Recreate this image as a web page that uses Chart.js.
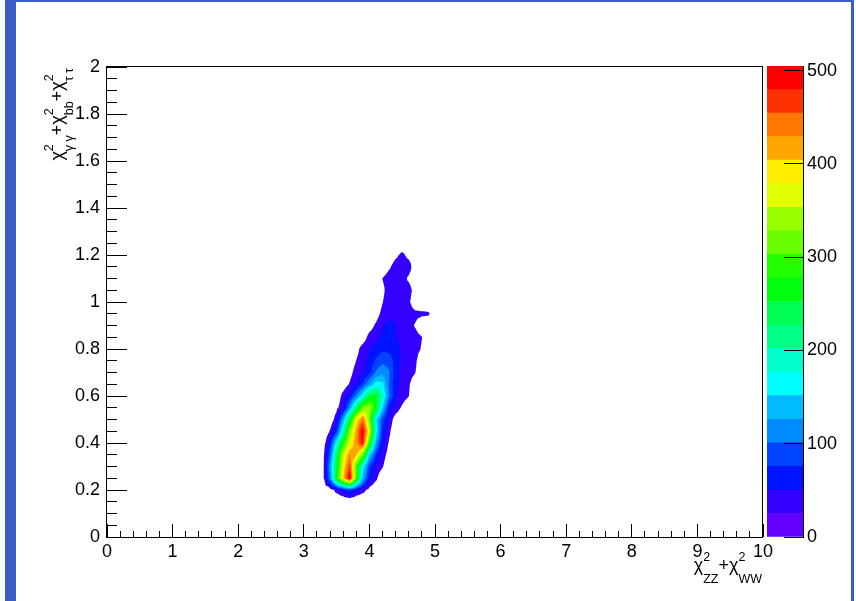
<!DOCTYPE html>
<html><head><meta charset="utf-8">
<script src="https://cdn.jsdelivr.net/npm/chart.js@4.4.1/dist/chart.umd.min.js"></script>
<style>
html,body{margin:0;padding:0;background:#fff;}
#wrap{position:relative;width:856px;height:601px;overflow:hidden;background:#fff;}
#main{position:absolute;left:0;top:0;}
#pal{position:absolute;left:740px;top:0;}
.bl{position:absolute;background:#3b5cc6;}
</style></head><body>
<div id="wrap">
<canvas id="main" width="856" height="601"></canvas>
<canvas id="pal" width="116" height="601"></canvas>
<div class="bl" style="left:5px;top:0;width:11px;height:601px"></div>
<div class="bl" style="left:5px;top:0;width:849px;height:2px"></div>
<div class="bl" style="left:851px;top:0;width:3px;height:601px"></div>
</div>
<script>
// ---- bin-centre grid of the 2D histogram (x: chi2_ZZ+chi2_WW, y: chi2_gg+chi2_bb+chi2_tt)
const xNodes = [3.2,3.3,3.4,3.5,3.6,3.7,3.8,3.9,4.0,4.1,4.2,4.3,4.4,4.5,4.6,4.7,4.8,4.9,5.0];
const yNodes = [0.15,0.20,0.25,0.30,0.35,0.40,0.45,0.50,0.55,0.60,0.65,0.70,0.75,0.80,0.85,0.90,0.95,1.00,1.05,1.10,1.15,1.20,1.25];
// bin contents, one array per y row (columns follow xNodes)
const z_y015 = [0,0,0,0,0,0,0,0,0,0,0,0,0,0,0,0,0,0,0];
const z_y020 = [0,0,10,35,55,85,50,35,15,0,0,0,0,0,0,0,0,0,0];
const z_y025 = [0,22,110,270,400,505,300,140,60,32,0,0,0,0,0,0,0,0,0];
const z_y030 = [0,22,120,250,380,465,300,170,80,45,28,0,0,0,0,0,0,0,0];
const z_y035 = [0,20,95,230,360,430,410,320,150,75,40,12,0,0,0,0,0,0,0];
const z_y040 = [0,10,65,170,280,370,430,485,290,130,55,22,0,0,0,0,0,0,0];
const z_y045 = [0,0,28,75,190,330,420,500,370,170,70,32,0,0,0,0,0,0,0];
const z_y050 = [0,0,5,40,130,250,380,445,320,160,85,45,10,0,0,0,0,0,0];
const z_y055 = [0,0,0,18,45,120,225,320,345,265,150,60,42,20,0,0,0,0,0];
const z_y060 = [0,0,0,5,35,58,110,170,255,260,190,105,55,40,26,0,0,0,0];
const z_y065 = [0,0,0,0,10,28,50,80,125,165,160,100,58,42,30,0,0,0,0];
const z_y070 = [0,0,0,0,0,15,38,48,68,105,118,105,62,44,40,26,0,0,0];
const z_y075 = [0,0,0,0,0,5,26,42,58,80,95,88,66,45,42,32,0,0,0];
const z_y080 = [0,0,0,0,0,0,15,38,48,60,70,68,60,46,42,38,22,0,0];
const z_y085 = [0,0,0,0,0,0,0,10,35,44,56,60,52,44,42,38,26,0,0];
const z_y090 = [0,0,0,0,0,0,0,0,12,30,48,58,50,42,38,22,0,0,0];
const z_y095 = [0,0,0,0,0,0,0,0,0,12,35,42,44,42,40,35,32,30,0];
const z_y100 = [0,0,0,0,0,0,0,0,0,0,24,42,42,42,32,0,0,0,0];
const z_y105 = [0,0,0,0,0,0,0,0,0,0,18,40,40,40,40,9,0,0,0];
const z_y110 = [0,0,0,0,0,0,0,0,0,0,26,40,42,40,19,0,0,0,0];
const z_y115 = [0,0,0,0,0,0,0,0,0,0,0,20,40,45,42,0,0,0,0];
const z_y120 = [0,0,0,0,0,0,0,0,0,0,0,0,18,33,15,0,0,0,0];
const z_y125 = [0,0,0,0,0,0,0,0,0,0,0,0,0,0,0,0,0,0,0];
const zGrid = [z_y015,z_y020,z_y025,z_y030,z_y035,z_y040,z_y045,z_y050,z_y055,z_y060,z_y065,z_y070,
               z_y075,z_y080,z_y085,z_y090,z_y095,z_y100,z_y105,z_y110,z_y115,z_y120,z_y125];

const zMin = 0, zMax = 505, nContours = 20;
const paletteTicks = [0,100,200,300,400,500];
const palette = ['#6300ff','#3300ff','#0014ff','#0044ff','#008bff','#00bbff','#00fffc','#00ffcc','#00ff85','#00ff55',
                 '#00ff0e','#22ff00','#69ff00','#99ff00','#e0ff00','#ffee00','#ffa700','#ff7700','#ff3000','#ff0000'];

const xTitleSegs = [{m:'\u03C7', sup:'2', sub:'ZZ'}, {m:'+\u03C7', sup:'2', sub:'WW'}];
const yTitleSegs = [{m:'\u03C7', sup:'2', sub:'\u03B3 \u03B3'}, {m:'+\u03C7', sup:'2', sub:'bb'}, {m:'+\u03C7', sup:'2', sub:'\u03C4 \u03C4'}];

const FONT = 'Liberation Sans, Arial, sans-serif';
const fmt = v => String(Math.round(v * 100) / 100);

function clipTri(ctx, A, B, C, L) {
  const V = [A, B, C], out = [];
  for (let m = 0; m < 3; m++) {
    const P = V[m], Q = V[(m + 1) % 3];
    const ip = P[2] >= L, iq = Q[2] >= L;
    if (ip) out.push([P[0], P[1]]);
    if (ip !== iq) {
      const t = (L - P[2]) / (Q[2] - P[2]);
      out.push([P[0] + (Q[0] - P[0]) * t, P[1] + (Q[1] - P[1]) * t]);
    }
  }
  if (out.length < 3) return;
  ctx.moveTo(out[0][0], out[0][1]);
  for (let m = 1; m < out.length; m++) ctx.lineTo(out[m][0], out[m][1]);
  ctx.closePath();
}

const contourPlugin = {
  id: 'contour',
  beforeDatasetsDraw(chart) {
    const {ctx, chartArea: ca, scales} = chart;
    const xs = scales.x, ys = scales.y;
    const px = xNodes.map(v => xs.getPixelForValue(v));
    const py = yNodes.map(v => ys.getPixelForValue(v));
    const dz = (zMax - zMin) / nContours;
    ctx.save();
    ctx.beginPath(); ctx.rect(ca.left, ca.top, ca.right - ca.left, ca.bottom - ca.top); ctx.clip();
    for (let k = 1; k < nContours; k++) {
      const L = zMin + k * dz;
      ctx.beginPath();
      for (let j = 0; j < yNodes.length - 1; j++) {
        for (let i = 0; i < xNodes.length - 1; i++) {
          const a = zGrid[j][i], b = zGrid[j][i + 1], c = zGrid[j + 1][i + 1], d = zGrid[j + 1][i];
          if (Math.max(a, b, c, d) < L) continue;
          const P = [[px[i], py[j], a], [px[i + 1], py[j], b], [px[i + 1], py[j + 1], c], [px[i], py[j + 1], d]];
          const M = [(px[i] + px[i + 1]) / 2, (py[j] + py[j + 1]) / 2, (a + b + c + d) / 4];
          for (let t = 0; t < 4; t++) clipTri(ctx, P[t], P[(t + 1) % 4], M, L);
        }
      }
      ctx.fillStyle = palette[k];
      ctx.fill('nonzero');
    }
    ctx.restore();
  }
};

function latexWidth(ctx, segs, fm, fs) {
  let w = 0;
  for (const s of segs) {
    ctx.font = fm; w += ctx.measureText(s.m).width;
    ctx.font = fs; w += Math.max(ctx.measureText(s.sup).width, ctx.measureText(s.sub).width);
  }
  return w;
}
function latexDraw(ctx, segs, x0, fm, fs, supDy, subDy) {
  let x = x0;
  ctx.textAlign = 'left'; ctx.textBaseline = 'alphabetic'; ctx.fillStyle = '#000';
  for (const s of segs) {
    ctx.font = fm; ctx.fillText(s.m, x, 0); x += ctx.measureText(s.m).width;
    ctx.font = fs;
    ctx.fillText(s.sup, x, supDy); ctx.fillText(s.sub, x, subDy);
    x += Math.max(ctx.measureText(s.sup).width, ctx.measureText(s.sub).width);
  }
}

const framePlugin = {
  id: 'frame',
  afterDraw(chart) {
    const {ctx, chartArea: ca} = chart;
    ctx.save();
    ctx.strokeStyle = '#000'; ctx.lineWidth = 1;
    ctx.strokeRect(ca.left - 0.5, ca.top - 0.5, ca.right - ca.left, ca.bottom - ca.top + 1);
    const fm = '18px ' + FONT, fs = '12.5px ' + FONT;
    // x title, right aligned at the axis end
    let w = latexWidth(ctx, xTitleSegs, fm, fs);
    ctx.save(); ctx.translate(ca.right - 1 - w, 571);
    latexDraw(ctx, xTitleSegs, 0, fm, fs, -10, 12);
    ctx.restore();
    // y title, rotated, right aligned at the axis top
    w = latexWidth(ctx, yTitleSegs, fm, fs);
    ctx.save(); ctx.translate(63, ca.top + 1); ctx.rotate(-Math.PI / 2);
    latexDraw(ctx, yTitleSegs, -w, fm, fs, -10, 10);
    ctx.restore();
    ctx.restore();
  }
};

const nodePoints = [];
zGrid.forEach((row, j) => row.forEach((v, i) => { if (v > 0) nodePoints.push({x: xNodes[i], y: yNodes[j], z: v}); }));

const tickFont = {family: FONT, size: 18};

new Chart(document.getElementById('main'), {
  type: 'scatter',
  data: {datasets: [{label: 'bins', data: nodePoints, pointRadius: 0, showLine: false, xAxisID: 'x', yAxisID: 'y'}]},
  options: {
    responsive: false, animation: false, events: [],
    layout: {padding: {left: 0, top: 67, right: 93, bottom: 0}},
    plugins: {legend: {display: false}, tooltip: {enabled: false}},
    scales: {
      x: {type: 'linear', position: 'bottom', min: 0, max: 10, weight: 1,
          afterFit: s => { s.height = 64; },
          ticks: {stepSize: 1, autoSkip: false, maxRotation: 0, padding: 17, color: '#000', font: tickFont, callback: v => fmt(v)},
          grid: {drawOnChartArea: false, tickLength: -13, tickColor: '#000', tickWidth: 1, z: 1},
          border: {display: false}},
      xMinor: {type: 'linear', position: 'bottom', min: 0, max: 10, weight: 0,
          afterFit: s => { s.height = 0; },
          ticks: {stepSize: 0.2, display: false, autoSkip: false, maxTicksLimit: 1000},
          grid: {drawOnChartArea: false, tickLength: -6, tickColor: '#000', tickWidth: 1, z: 1},
          border: {display: false}},
      y: {type: 'linear', position: 'left', min: 0, max: 2, weight: 1,
          afterFit: s => { s.width = 107; },
          ticks: {stepSize: 0.2, autoSkip: false, padding: 27, color: '#000', font: tickFont, callback: v => fmt(v)},
          grid: {drawOnChartArea: false, tickLength: -20, tickColor: '#000', tickWidth: 1, z: 1},
          border: {display: false}},
      yMinor: {type: 'linear', position: 'left', min: 0, max: 2, weight: 0,
          afterFit: s => { s.width = 0; },
          ticks: {stepSize: 0.05, display: false, autoSkip: false, maxTicksLimit: 1000},
          grid: {drawOnChartArea: false, tickLength: -10, tickColor: '#000', tickWidth: 1, z: 1},
          border: {display: false}}
    }
  },
  plugins: [contourPlugin, framePlugin]
});

// ---- colour palette (z axis)
const dzBand = (zMax - zMin) / nContours;
new Chart(document.getElementById('pal'), {
  type: 'bar',
  data: {labels: [''], datasets: palette.map((c, k) => ({label: 'level ' + k, data: [dzBand], backgroundColor: c,
         borderWidth: 0, barPercentage: 1, categoryPercentage: 1}))},
  options: {
    responsive: false, animation: false, events: [],
    layout: {padding: {left: 27, top: 66, right: 0, bottom: 64}},
    plugins: {legend: {display: false}, tooltip: {enabled: false}},
    scales: {
      x: {stacked: true, display: false},
      y: {stacked: true, position: 'right', min: zMin, max: zMax, bounds: 'data',
          afterFit: s => { s.width = 53; },
          afterBuildTicks: s => { s.ticks = paletteTicks.map(v => ({value: v})); },
          ticks: {autoSkip: false, includeBounds: false, padding: 23, color: '#000', font: tickFont, callback: v => fmt(v)},
          grid: {drawOnChartArea: false, tickLength: -19, tickColor: '#000', tickWidth: 1, z: 1},
          border: {display: true, color: '#000', width: 1, z: 1}}
    }
  }
});
</script>
</body></html>
